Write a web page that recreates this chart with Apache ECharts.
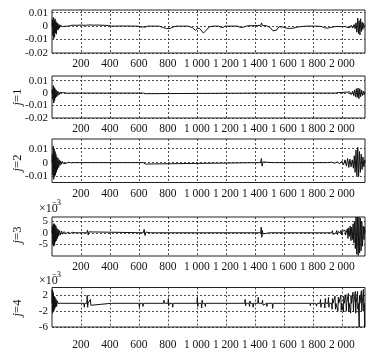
<!DOCTYPE html>
<html>
<head>
<meta charset="utf-8">
<script src="https://cdn.jsdelivr.net/npm/echarts@6/dist/echarts.min.js"></script>
<style>html,body{margin:0;padding:0;background:#fff}#c{width:379px;height:352px}</style>
</head>
<body>
<div id="c"></div>
<script>
// x tick labels (sample index)
const xTicks = [200, 400, 600, 800, 1000, 1200, 1400, 1600, 1800, 2000];
const xMax = 2160;
// panel names (j index)
const panelNames = ['', '1', '2', '3', '4'];
// y tick labels per panel (values in units of 1e-3)
const yTicks1 = [-20, -10, 0, 10];
const yTicks2 = [-20, -10, 0, 10];
const yTicks3 = [-10, 0, 10];
const yTicks4 = [-5, 0, 5];
const yTicks5 = [-6, -2, 2];

// series values [sample, value*1e3]
const sig0 = [[0,0],[3,5],[6,-7],[9,6.5],[12,-9.5],[15,4],[18,-8],[21,5.5],[24,-5],[27,3.5],[30,-6],[33,2.5],[36,-3],[40,2],[44,-2.5],[48,1.2],[52,-1.5],[56,0.8],[60,-0.6],[66,0.4],[72,-0.3],[80,0.2],[90,-0.1],[110,0],[125,0.3],[140,0.7],[170,0.6],[200,0.8],[230,0.6],[260,0.9],[290,0.7],[320,0.8],[360,0.6],[390,0.5],[410,0],[500,0.1],[590,0],[612,-0.6],[625,-1],[645,-0.7],[660,0],[740,0],[765,-1],[790,-1.8],[815,-1.7],[838,-0.6],[860,0],[940,0],[970,-1.2],[990,-3.3],[1005,-1.5],[1020,-1.8],[1045,-5.2],[1065,-3],[1085,-0.6],[1110,0],[1150,0],[1165,-0.8],[1180,-1],[1195,0],[1280,0],[1300,-1],[1320,-0.8],[1340,0],[1360,0.3],[1420,0.4],[1440,0.6],[1446,2.4],[1452,0.5],[1480,0.3],[1505,-1],[1525,-3.5],[1538,-4.8],[1550,-3],[1565,-0.5],[1590,-0.6],[1615,-1.4],[1640,-1.7],[1665,-1.5],[1690,-0.8],[1720,-0.3],[1760,0],[1820,0],[1860,-0.3],[1880,-1.2],[1900,-1.5],[1920,-1.1],[1945,-0.5],[1970,-0.2],[2000,-0.4],[2020,-0.2],[2035,-0.8],[2045,0.4],[2055,-1.2],[2065,0.6],[2075,-1.5],[2085,1.2],[2092,-2],[2098,2.5],[2104,-4.5],[2110,6],[2115,-5.5],[2120,4],[2125,-6.5],[2130,5.5],[2135,-4],[2140,3],[2145,-2.5],[2150,2],[2155,-1],[2160,0.5]];
const sig1 = [[0,0],[3,3],[6,-5],[9,6],[12,-8],[15,4.5],[18,-6],[21,3.5],[24,-4],[28,2.5],[32,-3],[36,1.5],[40,-2],[45,1],[50,-1.2],[56,0.6],[62,-0.6],[70,0.4],[80,-0.3],[95,0.2],[110,-0.2],[125,0],[630,0],[638,0.6],[644,-0.5],[650,0],[1440,0],[1446,0.6],[1452,-0.4],[1458,0],[1960,0],[1975,0.5],[1985,-0.6],[1995,0.4],[2005,-0.7],[2015,0.6],[2025,-0.8],[2035,0.7],[2045,-0.9],[2055,1],[2065,-1.2],[2075,1.5],[2082,-2],[2088,2.5],[2094,-3],[2100,3.5],[2106,-3.5],[2112,4],[2118,-4.5],[2124,3.5],[2130,-3],[2136,2.5],[2142,-2],[2148,1.5],[2154,-1.5],[2160,1]];
const sig2 = [[0,0],[3,6],[6,-9],[9,12],[12,-12],[15,10],[18,-10],[21,8],[24,-9],[27,6],[30,-7],[34,4],[38,-5],[42,3],[46,-3.5],[50,2],[55,-2],[60,1.2],[66,-1.2],[72,0.8],[80,-0.7],[90,0.5],[100,-0.4],[115,0.3],[130,-0.2],[150,0],[630,0],[638,1.2],[644,-1],[650,0],[1440,0],[1445,3],[1450,-2.5],[1456,0.5],[1462,0],[1520,0],[1525,0.4],[1530,-0.3],[1535,0],[1600,0],[1605,0.3],[1610,-0.3],[1615,0],[1900,0],[1930,0.3],[1950,-0.4],[1970,0.5],[1985,-0.8],[2000,1],[2012,-1.5],[2022,2],[2032,-2.5],[2040,3],[2048,-3.5],[2056,2.5],[2064,-3],[2072,2],[2080,-4],[2086,5],[2092,-7],[2098,9],[2104,-9.5],[2110,11],[2116,-10],[2122,8],[2128,-7],[2134,6],[2140,-5],[2146,4],[2152,-3],[2158,2],[2160,0]];
const sig3 = [[0,0],[3,3],[6,-5],[9,4],[12,-6],[15,4],[18,-5.5],[21,3.5],[24,-4],[27,3],[30,-3.5],[34,2],[38,-2.5],[42,1.5],[46,-1.5],[52,1],[58,-1],[66,0.8],[74,-0.6],[84,0.5],[96,-0.4],[110,0.3],[125,-0.3],[140,0.2],[160,0],[240,0],[245,1.2],[250,-1],[255,0.4],[260,0],[630,0],[636,1.5],[642,-1.2],[648,0.3],[655,0],[680,0],[684,0.5],[688,-0.4],[692,0],[720,0],[724,0.4],[728,-0.3],[732,0],[1060,0],[1064,0.4],[1068,-0.3],[1072,0],[1440,0],[1444,2.5],[1448,-2],[1452,1],[1456,-0.5],[1460,0],[1500,0],[1504,0.5],[1508,-0.4],[1512,0],[1560,0],[1564,0.5],[1568,-0.4],[1572,0],[1620,0],[1624,0.5],[1628,-0.5],[1632,0],[1700,0],[1704,0.6],[1708,-0.5],[1712,0],[1760,0],[1764,0.5],[1768,-0.5],[1772,0],[1830,0],[1834,0.6],[1838,-0.5],[1842,0],[1860,0],[1866,0.7],[1872,-0.5],[1878,0],[1895,0],[1900,0.8],[1906,-0.6],[1912,0],[1930,0],[1935,0.9],[1941,-0.7],[1947,0],[1960,0],[1965,1],[1970,-0.8],[1975,0.5],[1980,0],[1990,0],[1995,1.1],[2000,-1],[2005,0.6],[2010,0],[2018,0],[2022,1.2],[2026,-1],[2030,0],[2038,1.8],[2043,-2.5],[2048,2.2],[2053,-1.5],[2058,3],[2063,-3.5],[2068,2.5],[2073,-3],[2078,4],[2083,-4.5],[2088,5],[2093,-7],[2098,7],[2103,-9.5],[2108,7],[2113,-10],[2118,7],[2123,-9],[2128,6.5],[2133,-8],[2138,5],[2143,-6],[2148,3],[2153,-3],[2157,2.5],[2160,0]];
const sig4 = [[0,0],[2,3.5],[4,-2.5],[6,3],[8,-2],[10,2.5],[12,-2],[15,1.8],[18,-1.5],[21,1.5],[24,-1],[28,1],[32,-0.8],[36,0.6],[40,0],[60,0],[63,0.5],[66,-0.5],[69,0],[90,0],[93,0.4],[96,0],[220,0],[223,-1],[226,0],[240,0],[243,2],[246,-1],[249,0],[262,0],[265,1],[268,-0.5],[271,0],[410,0],[414,0.5],[418,0],[600,0],[603,-1],[606,0],[625,0],[628,-0.8],[631,0],[770,0],[773,0.8],[776,0],[800,0],[803,1.2],[806,-0.6],[809,0],[830,0],[833,-1],[836,0],[960,0],[963,0.5],[966,0],[1000,0],[1003,1.5],[1006,-0.8],[1009,0],[1030,0],[1033,-1.2],[1036,0.8],[1039,0],[1055,0],[1058,-0.8],[1061,0],[1330,0],[1333,1],[1336,-0.6],[1339,0],[1360,0],[1363,-0.8],[1366,0.6],[1369,0],[1385,0],[1388,-1],[1391,0],[1420,0],[1423,1.5],[1426,0],[1450,0],[1453,0.8],[1456,-0.5],[1459,0],[1480,0],[1483,-0.8],[1486,0],[1520,0],[1523,-1.3],[1526,0],[1590,0],[1593,0.5],[1596,0],[1650,0],[1653,-0.5],[1656,0],[1700,0],[1703,0.4],[1706,0],[1780,0],[1783,-0.6],[1786,0],[1820,0],[1823,0.5],[1826,-0.7],[1829,0],[1850,0],[1853,1],[1856,-1],[1859,0],[1880,0],[1883,-1.2],[1886,1.2],[1889,0],[1905,0],[1908,1.5],[1911,-1],[1914,0],[1930,0],[1933,-1.5],[1936,1.2],[1939,0],[1950,0],[1953,1.8],[1956,-1.5],[1959,0],[1970,0],[1973,-2],[1976,1.5],[1979,0],[1990,0],[1993,2],[1996,-1.8],[1999,0],[2008,0],[2011,-2.2],[2014,1.8],[2017,0],[2025,0],[2028,2.2],[2031,-2],[2034,0],[2042,0],[2045,2.5],[2048,-2.2],[2051,0],[2058,0],[2061,-2.5],[2064,2],[2067,0],[2074,0],[2077,2.8],[2080,-2.2],[2083,0],[2090,0],[2093,3],[2096,-2.5],[2099,0],[2105,0],[2108,3],[2111,-1.5],[2114,0],[2118,0],[2120,-6],[2122,2],[2125,0],[2132,0],[2135,3.2],[2138,-2],[2141,0],[2146,0],[2149,3.5],[2152,-2],[2155,0],[2157,-6],[2160,-6]];

const FONT = 'Liberation Serif';
const grids = [
  {top: 10, height: 43},
  {top: 76, height: 42},
  {top: 139, height: 43.5},
  {top: 217, height: 39},
  {top: 287.5, height: 39.5}
];
const nameY = [0, 97, 163, 235, 308];
const yCfg = [
  {min: -20, max: 12, ticks: yTicks1, scale: 1000},
  {min: -20, max: 13.7, ticks: yTicks2, scale: 1000},
  {min: -14.3, max: 17, ticks: yTicks3, scale: 1000},
  {min: -10.3, max: 7, ticks: yTicks4, scale: 1},
  {min: -6, max: 4, ticks: yTicks5, scale: 1}
];
const sigs = [sig0, sig1, sig2, sig3, sig4];
const labelMargins = [5, 5, 5, 5, 12];

function fmtX(v) {
  const s = String(v);
  return s.length > 3 ? s.slice(0, s.length - 3) + ' ' + s.slice(-3) : s;
}
function fmtY(v, scale) {
  const r = Math.round(v * 1000) / 1000;
  if (scale === 1000) {
    const n = r / 1000;
    return n === 0 ? '0' : String(n);
  }
  return String(r);
}

const graphics = [
  {type: 'text', left: 39, top: 203, style: {text: '×10', fontFamily: FONT, fontSize: 12, fill: '#111'}},
  {type: 'text', left: 52, top: 198, style: {text: '−3', fontFamily: FONT, fontSize: 8.5, fill: '#111'}},
  {type: 'text', left: 39, top: 275, style: {text: '×10', fontFamily: FONT, fontSize: 12, fill: '#111'}},
  {type: 'text', left: 52, top: 270, style: {text: '−3', fontFamily: FONT, fontSize: 8.5, fill: '#111'}}
];
panelNames.forEach((n, i) => {
  if (!n) return;
  graphics.push({
    type: 'text', x: 18, y: nameY[i], rotation: Math.PI / 2,
    style: {text: '{i|j}=' + n, align: 'center', verticalAlign: 'middle', fontFamily: FONT, fontSize: 12.5, fill: '#111',
      rich: {i: {fontStyle: 'italic', fontFamily: FONT, fontSize: 12.5, fill: '#111'}}}
  });
});

const option = {
  animation: false,
  backgroundColor: '#fff',
  textStyle: {fontFamily: FONT},
  grid: grids.map(g => ({left: 52, right: 14, top: g.top, height: g.height, show: true, borderColor: '#222', borderWidth: 1, backgroundColor: 'transparent'})),
  xAxis: grids.map((g, i) => ({
    type: 'value', gridIndex: i, min: 0, max: xMax,
    axisLine: {show: false},
    axisTick: {show: false, customValues: xTicks},
    axisLabel: {customValues: xTicks, formatter: v => fmtX(v), fontFamily: FONT, fontSize: 11.5, color: '#111', margin: labelMargins[i]},
    splitLine: {show: true, lineStyle: {color: '#222', type: [2, 2], width: 0.8}}
  })),
  yAxis: grids.map((g, i) => ({
    type: 'value', gridIndex: i, min: yCfg[i].min, max: yCfg[i].max,
    axisLine: {show: false},
    axisTick: {show: false, customValues: yCfg[i].ticks},
    axisLabel: {customValues: yCfg[i].ticks, formatter: v => fmtY(v, yCfg[i].scale), fontFamily: FONT, fontSize: 11, color: '#111', margin: 4},
    splitLine: {show: true, lineStyle: {color: '#222', type: [2, 2], width: 0.8}}
  })),
  graphic: graphics,
  series: sigs.map((d, i) => ({
    type: 'line', xAxisIndex: i, yAxisIndex: i, data: d, showSymbol: false, symbol: 'none',
    lineStyle: {color: '#111', width: 1}, clip: true, z: 3
  }))
};
const chart = echarts.init(document.getElementById('c'), null, {renderer: 'canvas'});
chart.setOption(option);
</script>
</body>
</html>
